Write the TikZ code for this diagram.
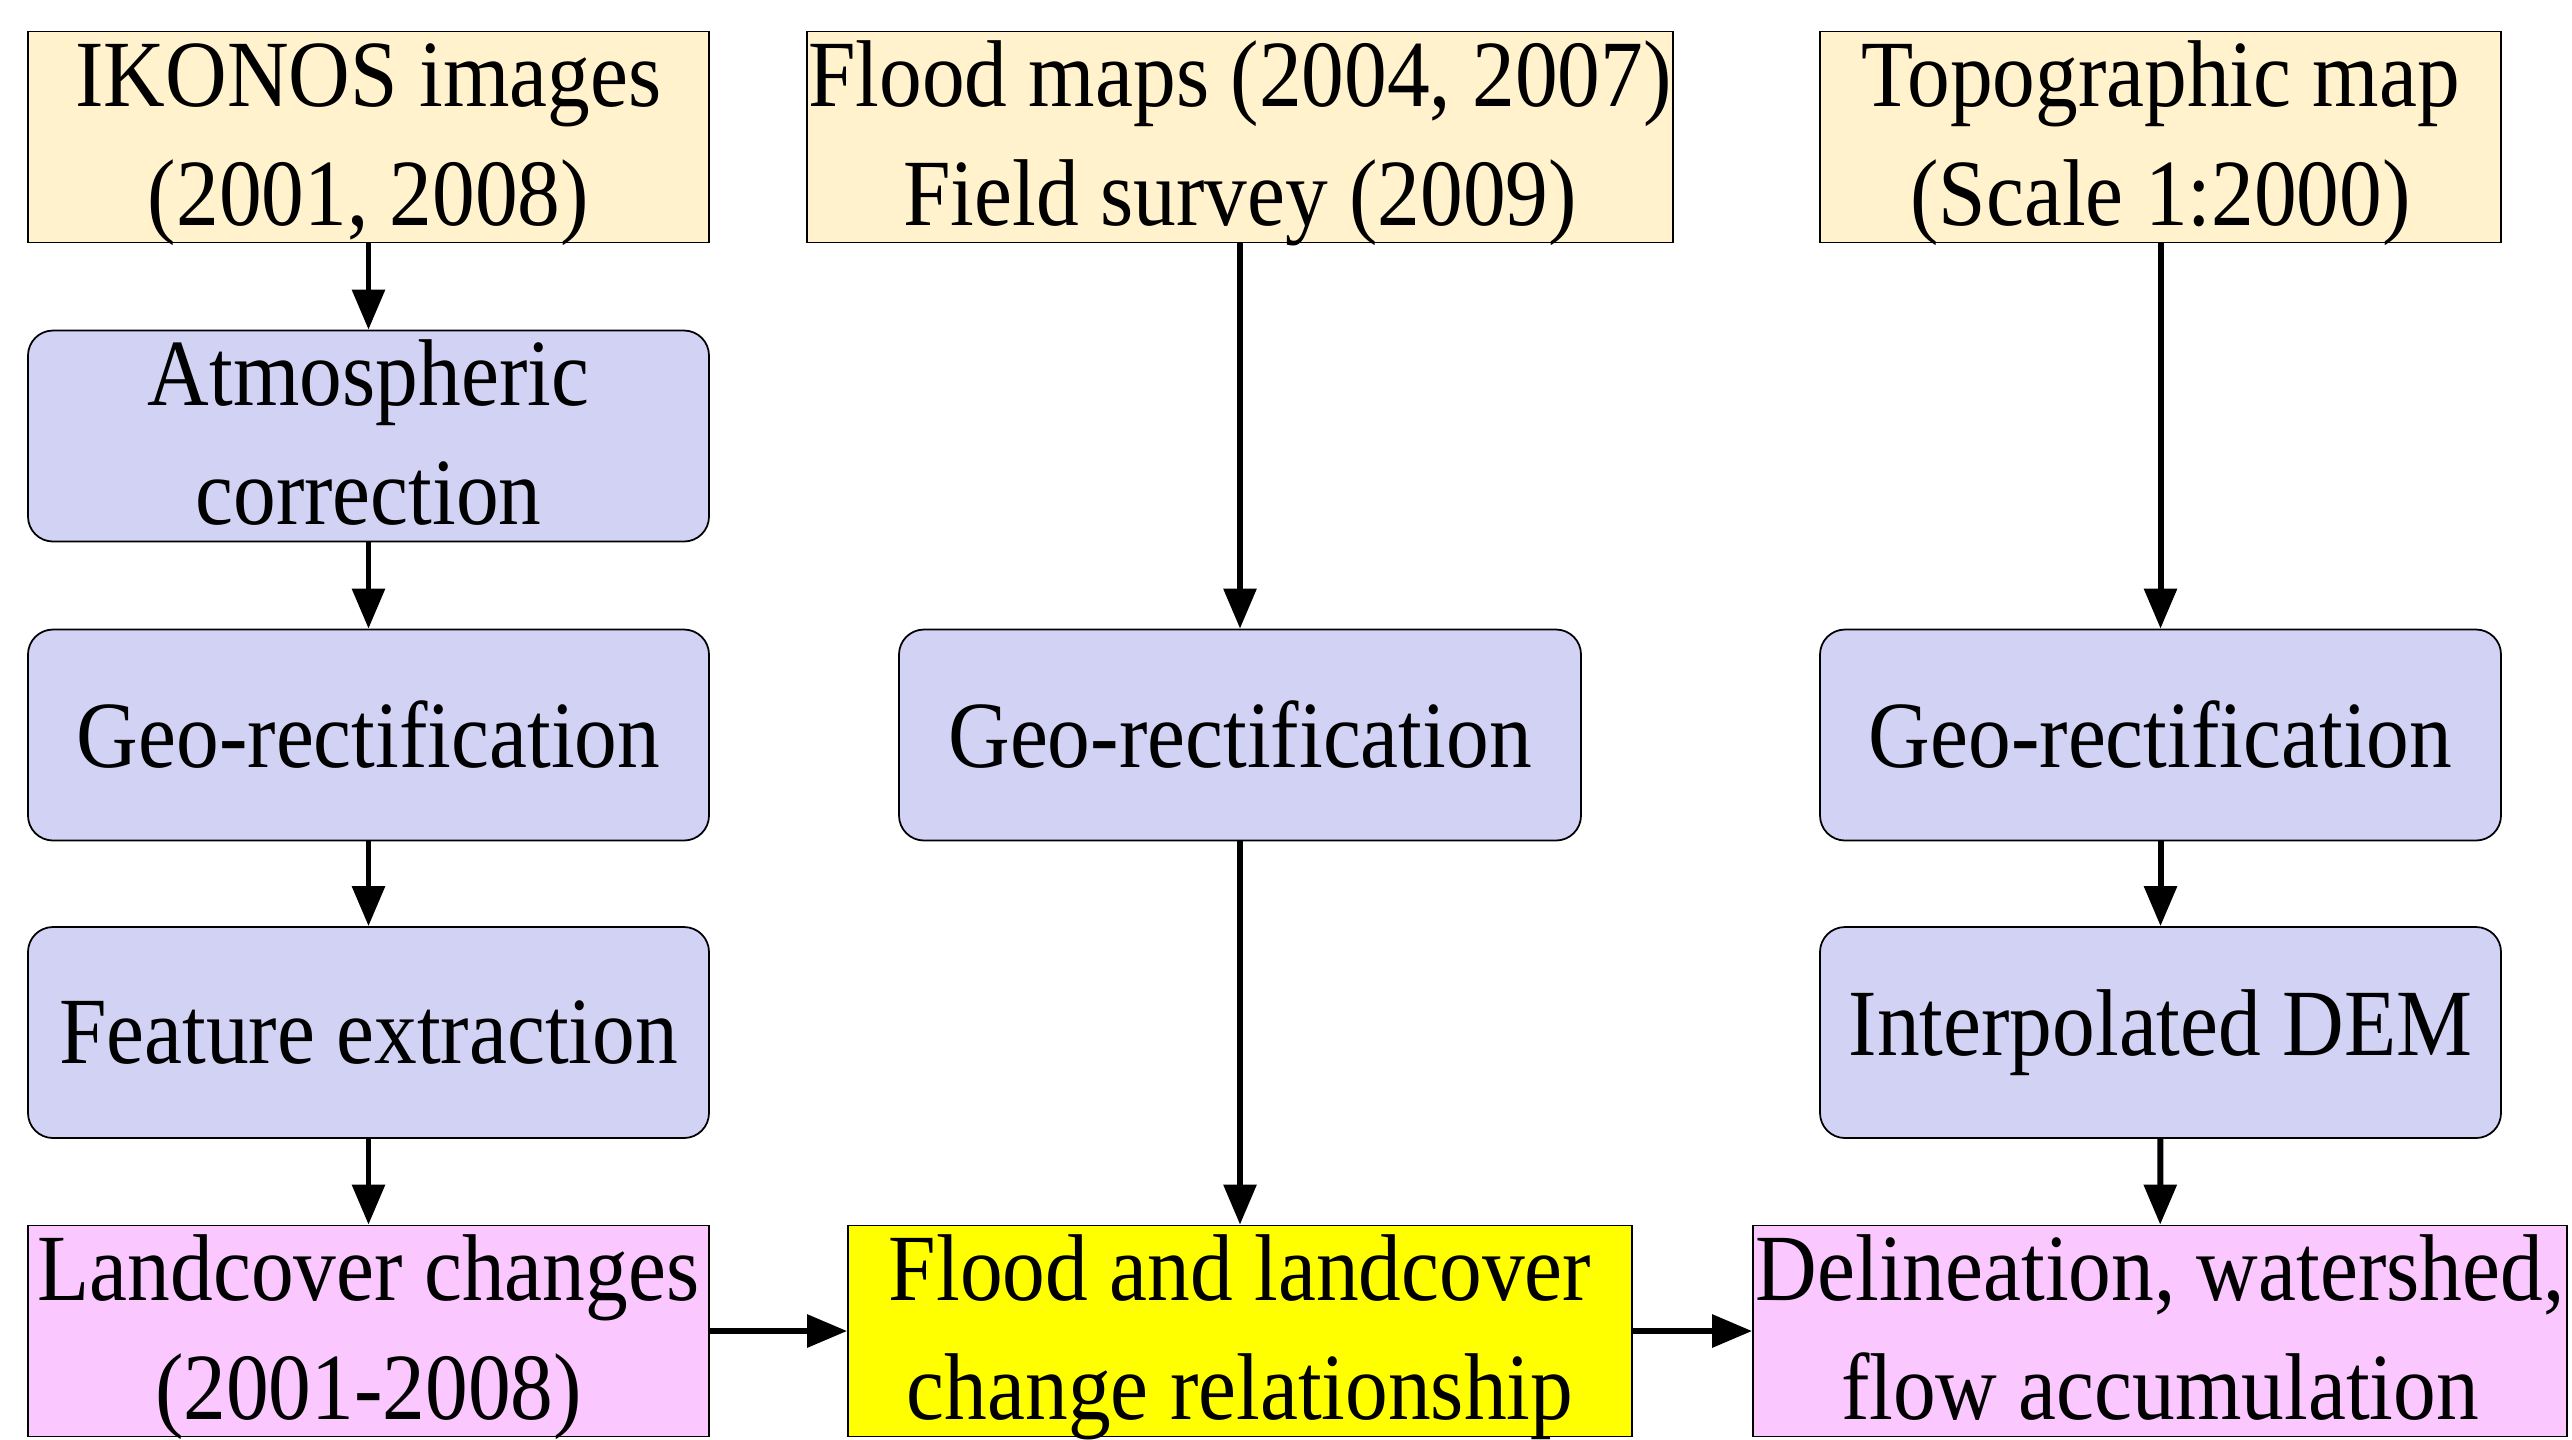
\documentclass[tikz,border=0pt]{standalone}
\usepackage{fontspec}
\setmainfont[FakeStretch=0.9]{Liberation Serif}
\usetikzlibrary{arrows.meta}
\definecolor{srcfill}{RGB}{255,242,204}
\definecolor{procfill}{RGB}{210,210,244}
\definecolor{outfill}{RGB}{250,200,255}
\definecolor{relfill}{RGB}{255,255,0}

\begin{document}
\begin{tikzpicture}[
  box/.style={draw, line width=0.5pt, inner sep=0pt, align=center, minimum height=2.11cm,
              font=\fontsize{27}{34}\selectfont},
  twoline/.style={text height=54.4pt, text depth=3.9pt},
  srcbox/.style={box, twoline, fill=srcfill},
  procbox/.style={box, fill=procfill, rounded corners=0.25cm},
  outbox/.style={box, twoline, fill=outfill},
  relbox/.style={box, twoline, fill=relfill},
  flow/.style={line width=1.7pt, -{Triangle[length=0.4cm,width=0.32cm]}}
]
\useasboundingbox (0,0) rectangle (25.72,-14.39);
% sources
\node[srcbox, minimum width=6.81cm] (ikonos) at (3.685,-1.37) {IKONOS images\\(2001, 2008)};
\node[srcbox, minimum width=8.66cm] (floodmap) at (12.40,-1.37) {Flood maps (2004, 2007)\\Field survey (2009)};
\node[srcbox, minimum width=6.81cm] (topo) at (21.605,-1.37) {Topographic map\\(Scale 1:2000)};
% processing
\node[procbox, twoline, minimum width=6.81cm] (atmos) at (3.685,-4.36) {Atmospheric\\correction};
\node[procbox, minimum width=6.81cm] (geoL) at (3.685,-7.35) {Geo-rectification};
\node[procbox, minimum width=6.82cm] (geoM) at (12.40,-7.35) {Geo-rectification};
\node[procbox, minimum width=6.81cm] (geoR) at (21.605,-7.35) {Geo-rectification};
\node[procbox, minimum width=6.81cm] (feature) at (3.685,-10.325) {Feature extraction};
\node[procbox, minimum width=6.81cm] (dem) at (21.605,-10.325) {Interpolated DEM};
% results
\node[outbox, minimum width=6.81cm] (landcover) at (3.685,-13.31) {Landcover changes\\(2001-2008)};
\node[relbox, minimum width=7.84cm] (relation) at (12.40,-13.31) {Flood and landcover\\change relationship};
\node[outbox, minimum width=8.14cm] (delin) at (21.60,-13.31) {Delineation, watershed,\\flow accumulation};
% connectors
\draw[flow] (ikonos) -- (atmos);
\draw[flow] (atmos) -- (geoL);
\draw[flow] (geoL) -- (feature);
\draw[flow] (feature) -- (landcover);
\draw[flow] (floodmap) -- (geoM);
\draw[flow] (geoM) -- (relation);
\draw[flow] (topo) -- (geoR);
\draw[flow] (geoR) -- (dem);
\draw[flow] (dem) -- (delin);
\draw[flow] (landcover) -- (relation);
\draw[flow] (relation) -- (delin);
\end{tikzpicture}
\end{document}
